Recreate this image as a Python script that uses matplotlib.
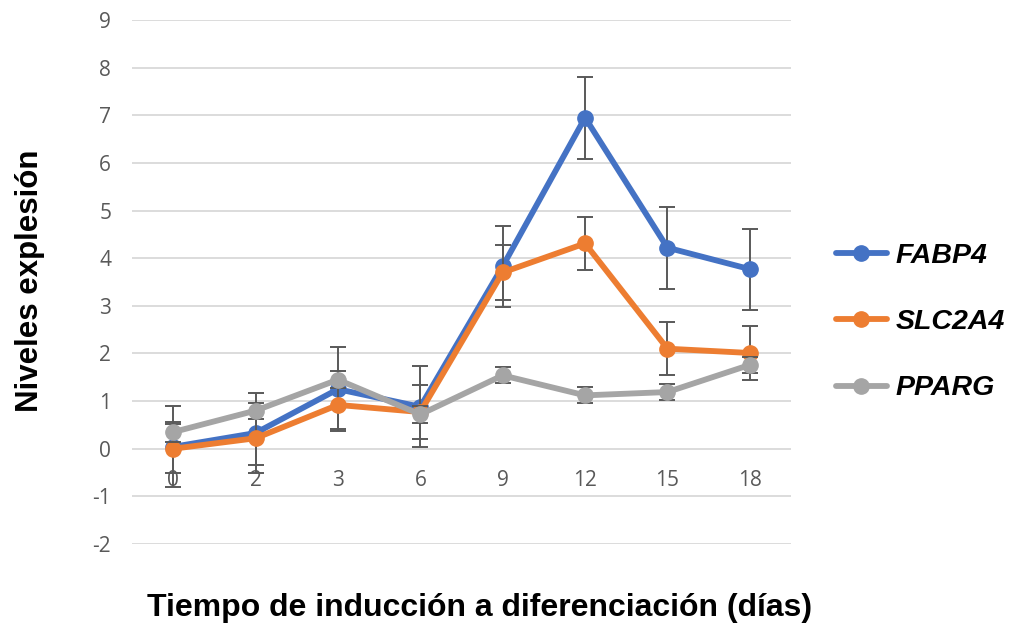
import numpy as np
import matplotlib
matplotlib.use('Agg')
import matplotlib.pyplot as plt

plt.rcParams['axes.unicode_minus'] = False

# days of differentiation (categorical x axis)
days = ['0', '2', '3', '6', '9', '12', '15', '18']

fabp4 = [0.04, 0.33, 1.25, 0.88, 3.83, 6.95, 4.22, 3.77]
fabp4_err = [0.85, 0.84, 0.88, 0.85, 0.85, 0.86, 0.86, 0.85]

slc2a4 = [0.0, 0.22, 0.92, 0.77, 3.70, 4.31, 2.10, 2.01]
slc2a4_err = [0.52, 0.57, 0.50, 0.56, 0.57, 0.55, 0.56, 0.56]

pparg = [0.35, 0.80, 1.45, 0.72, 1.54, 1.12, 1.19, 1.76]
pparg_err = [0.21, 0.17, 0.18, 0.18, 0.17, 0.17, 0.17, 0.17]

series = [('FABP4', fabp4, fabp4_err, '#4472C4'),
          ('SLC2A4', slc2a4, slc2a4_err, '#ED7D31'),
          ('PPARG', pparg, pparg_err, '#A5A5A5')]

W, H = 1026, 629
fig = plt.figure(figsize=(W / 100, H / 100), dpi=100)
ax = fig.add_axes([132 / W, 1 - 544 / H, (791 - 132) / W, (544 - 20) / H])

x = np.arange(len(days))
z = 3
for name, vals, err, col in series:
    ax.errorbar(x, vals, yerr=err, fmt='none', ecolor='#595959', elinewidth=1.4,
                capsize=5.5, capthick=1.4, zorder=z)
    ax.plot(x, vals, '-o', color=col, lw=4.2, ms=11, label=name, zorder=z + 1,
            solid_capstyle='round')
    z += 2

ax.set_xlim(-0.5, len(days) - 0.5)
ax.set_ylim(-2, 9)
ax.set_yticks(range(-2, 10))
ax.grid(axis='y', color='#D9D9D9', lw=1.3, zorder=0)
ax.set_axisbelow(True)
for s in ['left', 'right', 'top']:
    ax.spines[s].set_visible(False)
ax.spines['bottom'].set_position(('data', 0))
ax.spines['bottom'].set_visible(False)

ax.set_xticks(x)
ax.set_xticklabels(days)
ax.tick_params(axis='x', length=0, pad=15, labelsize=15, labelcolor='#595959')
ax.tick_params(axis='y', length=0, pad=15, labelsize=15, labelcolor='#595959')
for lab in ax.get_xticklabels() + ax.get_yticklabels():
    lab.set_fontfamily('Open Sans')

fig.text(480 / W, 1 - 608 / H, 'Tiempo de inducción a diferenciación (días)',
         ha='center', va='center', fontsize=23, fontweight='bold',
         family='Liberation Sans')
fig.text(30 / W, 1 - 281 / H, 'Niveles explesión', rotation=90,
         ha='center', va='center', fontsize=22.5, fontweight='bold',
         family='Liberation Sans')

leg = fig.legend(loc='upper left', bbox_to_anchor=(810 / W, 1 - 217 / H),
                 frameon=False, handlelength=1.8, handletextpad=0.3,
                 labelspacing=1.42,
                 prop={'family': 'Liberation Sans', 'weight': 'bold',
                       'style': 'italic', 'size': 20.5})

fig.savefig('out.png', dpi=100)
